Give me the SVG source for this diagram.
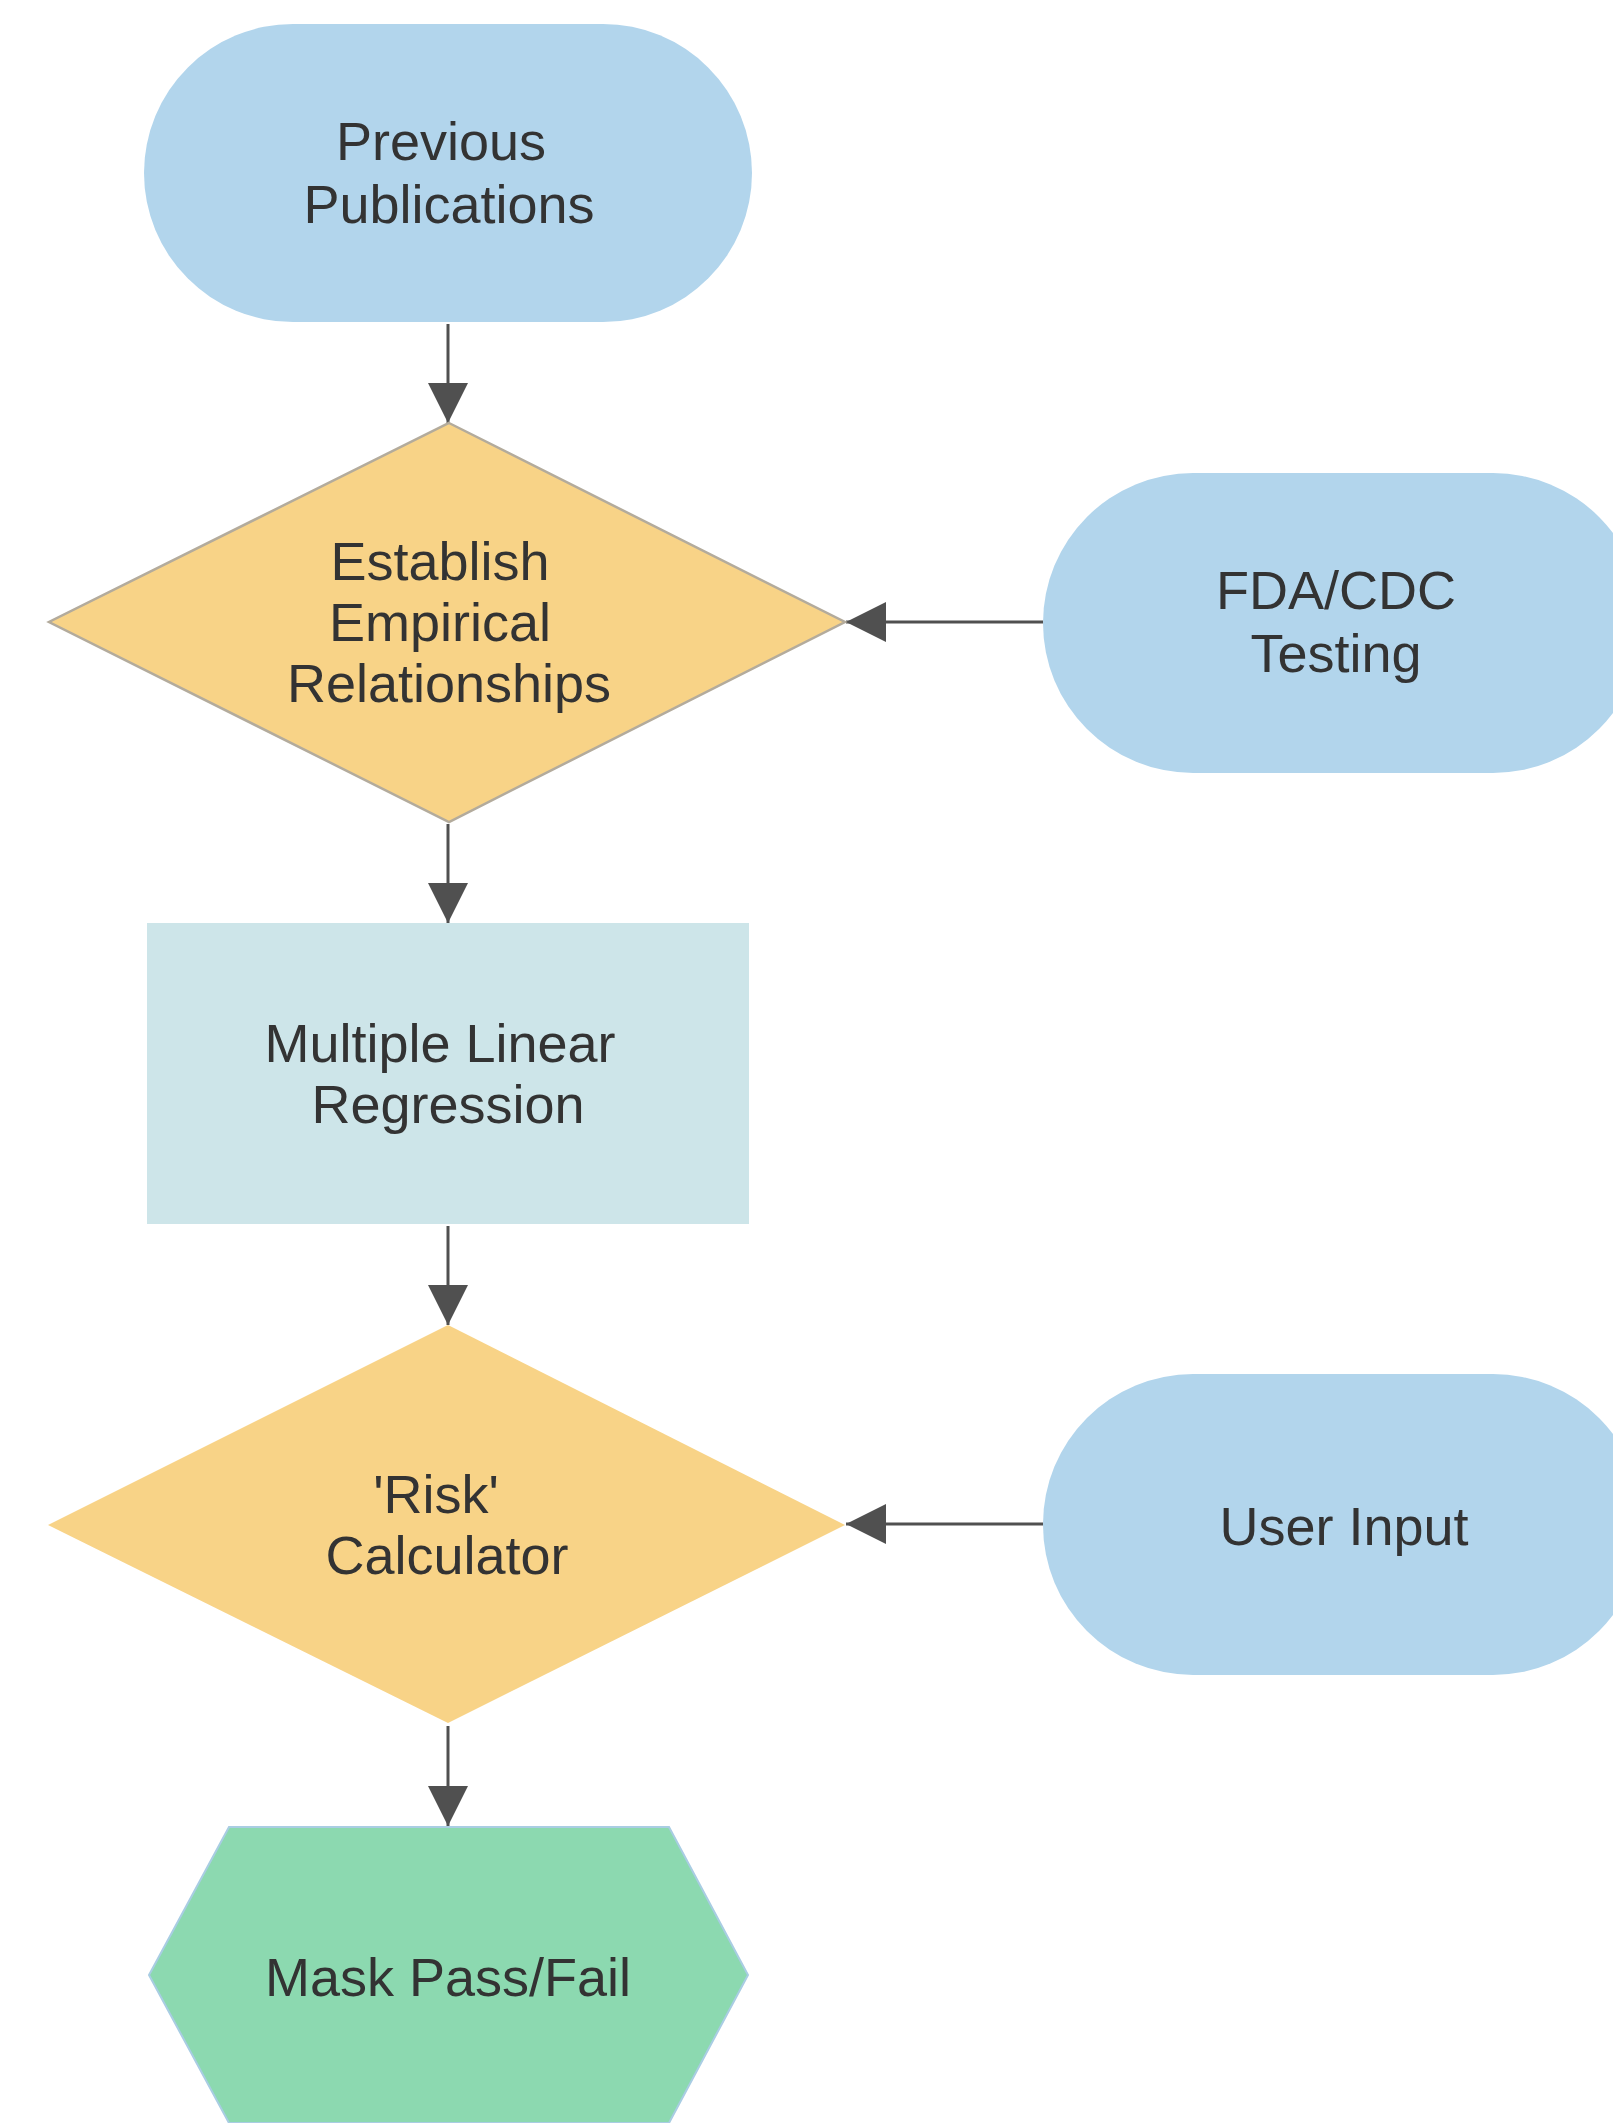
<svg xmlns="http://www.w3.org/2000/svg" width="1613" height="2123" viewBox="0 0 1613 2123">
<defs>
<style>
.t{font-family:"Liberation Sans",Arial,sans-serif;font-size:54px;fill:#333;text-anchor:middle}
.pill{fill:#b2d5ec}
.dia{fill:#f8d387}
.c{stroke:#505050;stroke-width:3;fill:none;marker-end:url(#ah)}
</style>
<marker id="ah" markerUnits="userSpaceOnUse" markerWidth="40" markerHeight="40" refX="40" refY="20" orient="auto" viewBox="0 0 40 40">
<path d="M0,0 L40,20 L0,40 Z" fill="#505050"/>
</marker>
</defs>
<rect width="1613" height="2123" fill="#ffffff"/>
<g id="connectors">
<line class="c" x1="448" y1="324" x2="448" y2="423"/>
<line class="c" x1="448" y1="824" x2="448" y2="923"/>
<line class="c" x1="448" y1="1226" x2="448" y2="1325"/>
<line class="c" x1="448" y1="1726" x2="448" y2="1826"/>
<line class="c" x1="1043" y1="622" x2="846" y2="622"/>
<line class="c" x1="1043" y1="1524" x2="846" y2="1524"/>
</g>
<g id="previous-publications">
<rect class="pill" x="144" y="24" width="608" height="298" rx="149" ry="149"/>
<text class="t" x="441" y="160">Previous</text>
<text class="t" x="449" y="223">Publications</text>
</g>
<g id="establish">
<polygon class="dia" points="449,423 845,622 449,822 49,622" stroke="#b3ab9c" stroke-width="2.5"/>
<text class="t" x="440" y="580">Establish</text>
<text class="t" x="440" y="641">Empirical</text>
<text class="t" x="449" y="702">Relationships</text>
</g>
<g id="fda-cdc">
<rect class="pill" x="1043" y="473" width="600" height="300" rx="150" ry="150"/>
<text class="t" x="1336" y="609">FDA/CDC</text>
<text class="t" x="1336" y="672">Testing</text>
</g>
<g id="mlr">
<rect x="147" y="923" width="602" height="301" fill="#cde5e9"/>
<text class="t" x="440" y="1062">Multiple Linear</text>
<text class="t" x="448" y="1123">Regression</text>
</g>
<g id="risk">
<polygon class="dia" points="448,1325 845,1525 448,1723 48,1525"/>
<text class="t" x="436" y="1513">'Risk'</text>
<text class="t" x="447" y="1574">Calculator</text>
</g>
<g id="user-input">
<rect class="pill" x="1043" y="1374" width="600" height="301" rx="150" ry="150"/>
<text class="t" x="1344" y="1545">User Input</text>
</g>
<g id="mask">
<polygon points="229,1827 669,1827 748,1975 669,2123 229,2123 149,1975" fill="#8cd9b0" stroke="#a9cde3" stroke-width="2"/>
<text class="t" x="448" y="1996">Mask Pass/Fail</text>
</g>
</svg>
